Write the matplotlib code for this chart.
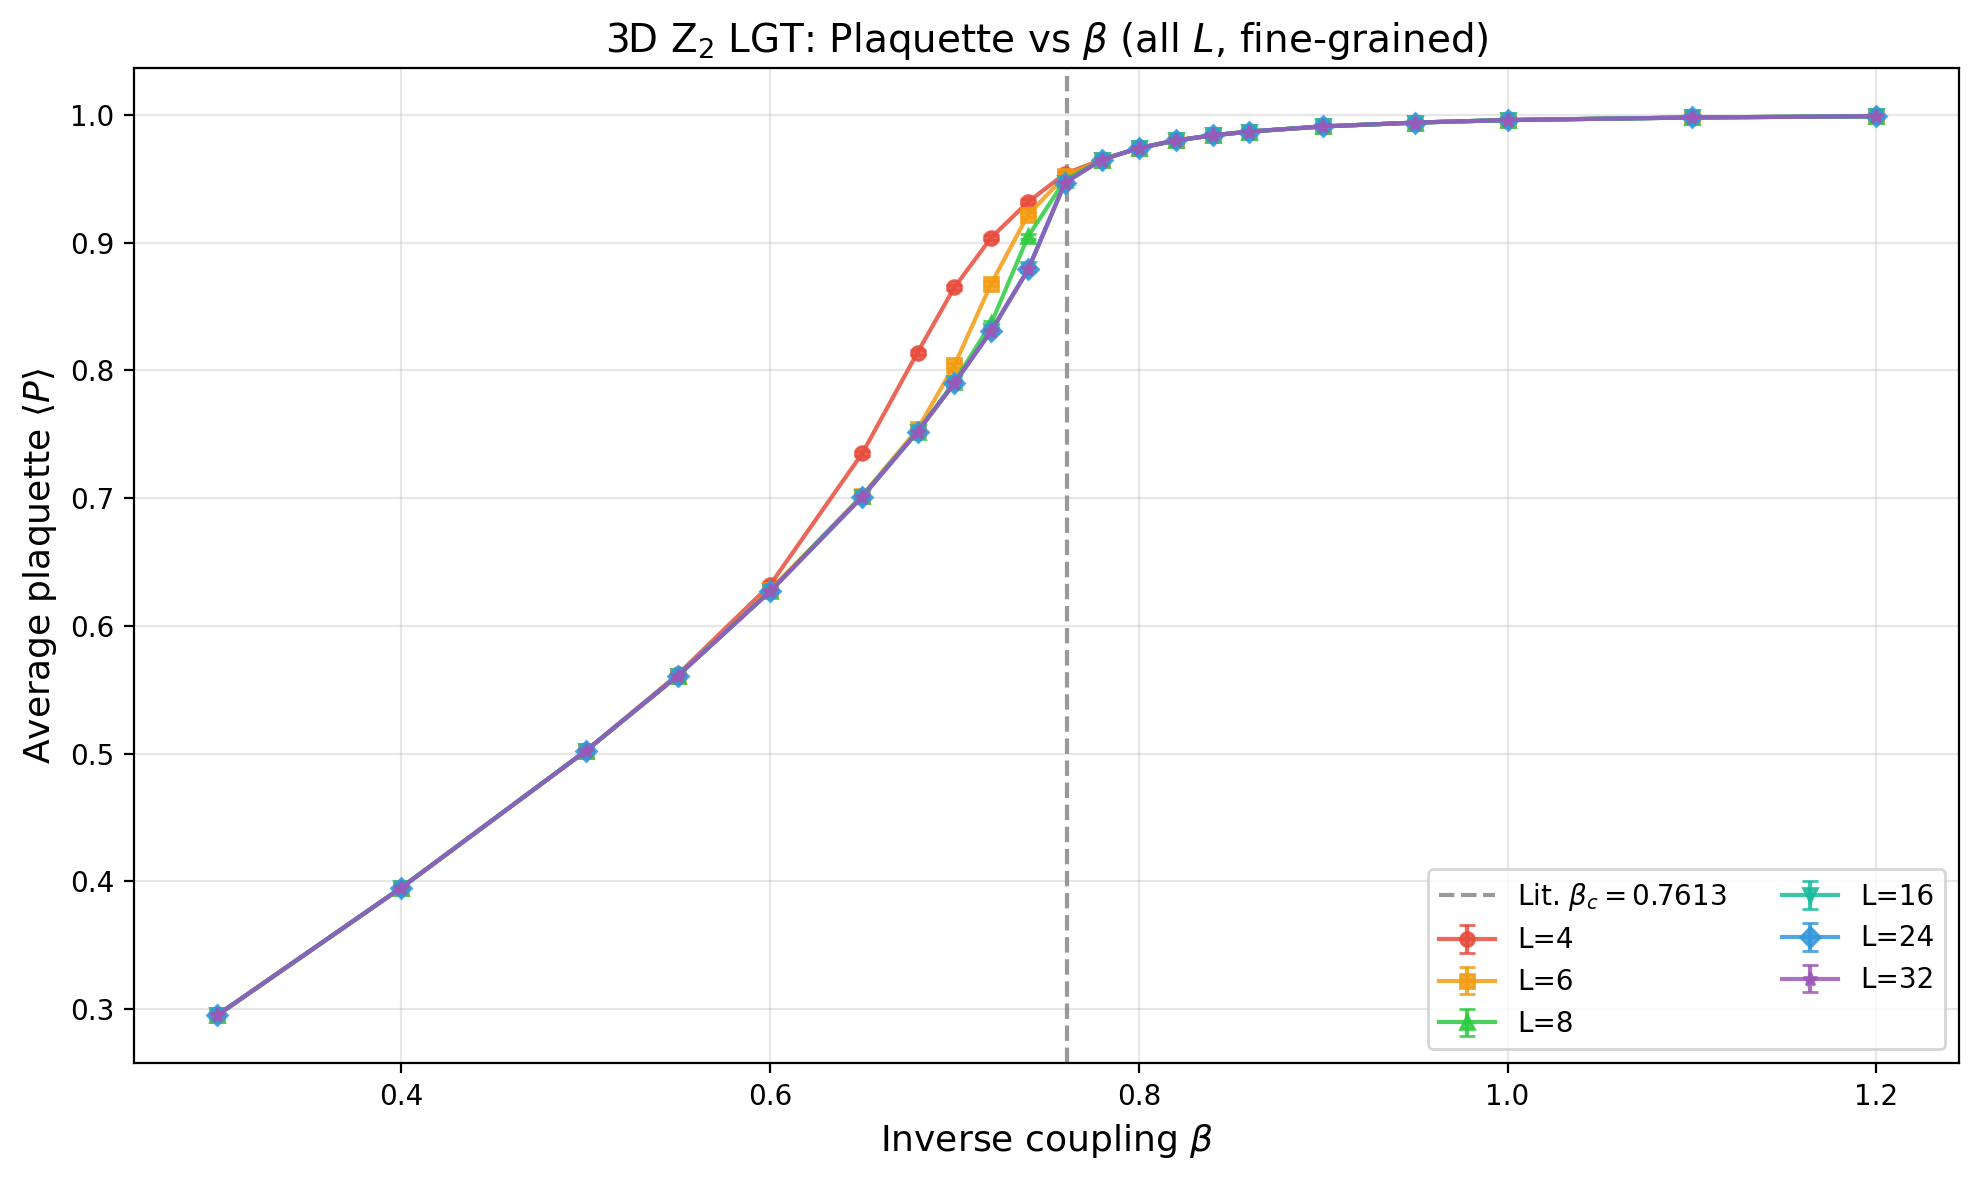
import matplotlib
matplotlib.use("Agg")
import matplotlib.pyplot as plt
import numpy as np

beta = [0.30, 0.40, 0.50, 0.55, 0.60, 0.65, 0.68, 0.70, 0.72, 0.74, 0.76,
        0.78, 0.80, 0.82, 0.84, 0.86, 0.90, 0.95, 1.00, 1.10, 1.20]

tail = [0.965, 0.974, 0.980, 0.984, 0.987, 0.991, 0.994, 0.996, 0.998, 0.999]
P_L4 = [0.295, 0.395, 0.502, 0.562, 0.632, 0.735, 0.814, 0.865, 0.904, 0.932, 0.954] + tail
P_L6 = [0.295, 0.395, 0.502, 0.561, 0.628, 0.702, 0.754, 0.804, 0.868, 0.922, 0.952] + tail
P_L8 = [0.295, 0.395, 0.502, 0.561, 0.627, 0.702, 0.752, 0.791, 0.837, 0.905, 0.949] + tail
P_L16 = [0.295, 0.395, 0.502, 0.561, 0.627, 0.701, 0.752, 0.790, 0.831, 0.879, 0.947] + tail
P_L24 = [0.295, 0.395, 0.502, 0.561, 0.627, 0.701, 0.752, 0.790, 0.831, 0.879, 0.947] + tail
P_L32 = [0.295, 0.395, 0.502, 0.561, 0.627, 0.701, 0.752, 0.790, 0.831, 0.879, 0.947] + tail

labels = ["L=4", "L=6", "L=8", "L=16", "L=24", "L=32"]
series = [P_L4, P_L6, P_L8, P_L16, P_L24, P_L32]
colors = ["#e74c3c", "#f39c12", "#2ecc40", "#1abc9c", "#3498db", "#9b59b6"]
markers = ["o", "s", "^", "v", "D", "*"]
err = 0.002
beta_c = 0.7613

fig, ax = plt.subplots(figsize=(9.895, 5.9), dpi=200)
fig.subplots_adjust(left=0.0677, right=0.990, top=0.942, bottom=0.099)
ax.axvline(beta_c, color="gray", ls="--", lw=1.5, alpha=0.8,
           label=r"Lit. $\beta_c = 0.7613$")
for lab, y, c, m in zip(labels, series, colors, markers):
    ax.errorbar(beta, y, yerr=err, color=c, marker=m, markersize=5,
                lw=1.5, capsize=3, alpha=0.85, label=lab)

ax.set_xlabel(r"Inverse coupling $\beta$", fontsize=13)
ax.set_ylabel(r"Average plaquette $\langle P\rangle$", fontsize=13)
ax.set_title(r"3D Z$_2$ LGT: Plaquette vs $\beta$ (all $L$, fine-grained)", fontsize=14)
ax.grid(True, alpha=0.3)
ax.legend(loc="lower right", ncol=2, fontsize=10)
fig.savefig("out.png", dpi=200)
